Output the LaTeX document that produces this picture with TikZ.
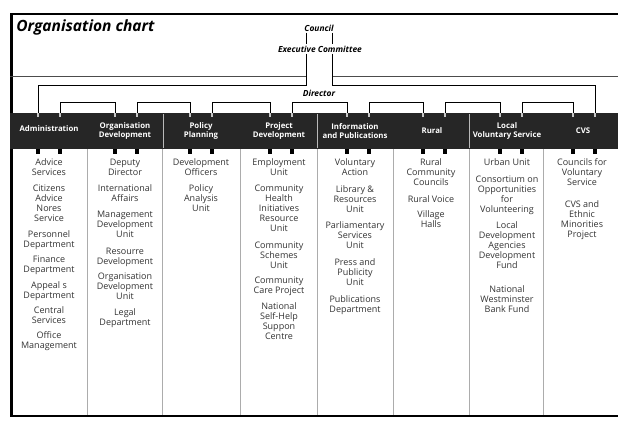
\documentclass[tikz,border=0pt]{standalone}
\usepackage{fontspec}
\setmainfont{Open Sans}
\usetikzlibrary{positioning}
\tikzset{every path/.style={line width=0.7pt},
  head/.style={text=white, font=\fontsize{7.8}{9.5}\selectfont\bfseries, align=center, inner sep=0pt},
  items/.style={text=black!80, font=\fontsize{9}{10}\selectfont, align=center, anchor=north, inner sep=0pt},
  boss/.style={font=\fontsize{8.4}{10}\selectfont\bfseries\itshape, inner sep=1pt},
  toptick/.style={fill=gray!45, minimum width=1.6pt, minimum height=4pt, inner sep=0pt, anchor=north},
  bottick/.style={fill=black, minimum width=3.5pt, minimum height=4.5pt, inner sep=0pt, anchor=north},
  colline/.style={gray!65, line width=0.6pt}}

\begin{document}
\begin{tikzpicture}[x=1pt,y=-1pt]
   \useasboundingbox (0,0) rectangle (618,421);
   % frame and title
   \draw[line width=2pt] (10,14) -- (618,14);
   \draw[line width=3pt] (11.5,13) -- (11.5,417);
   \draw[line width=2pt] (10,416) -- (618,416);
   \node[font=\fontsize{15.5}{18}\selectfont\bfseries\itshape, anchor=west, inner sep=0pt] (title) at (16,27) {Organisation chart};
   \node[boss] (council) at (319,28) {Council};
   \node[boss] (exec) at (320,49) {Executive Committee};
   \node[boss] (director) at (319,93) {Director};
   \draw[gray!60!black, line width=0.6pt] (10,76) -- (306,76);
   \draw[gray!60!black, line width=0.6pt] (332,76) -- (618,76);
   % band of departments
   \fill[black!85] (10,113) rectangle (618,149);
   \draw[gray!55, line width=0.5pt] (163,114) -- (163,148);
   \draw[gray!55, line width=0.5pt] (317,114) -- (317,148);
   \draw[gray!55, line width=0.5pt] (469,114) -- (469,148);
   \draw[colline] (87,149) -- (87,415);
   \draw[colline] (162,149) -- (162,415);
   \draw[colline] (240,149) -- (240,415);
   \draw[colline] (317,149) -- (317,415);
   \draw[colline] (393,149) -- (393,415);
   \draw[colline] (469,149) -- (469,415);
   \draw[colline] (543,149) -- (543,415);
   \node[head] (admin) at (49,129) {Administration};
   \node[head] (orgdev) at (125,131) {Organisation\\Development};
   \node[head] (policy) at (201,131) {Policy\\Planning};
   \node[head] (project) at (279,131) {Project\\Development};
   \node[head] (info) at (355,131) {Information\\and Publications};
   \node[head] (rural) at (432,131) {Rural};
   \node[head] (local) at (507,131) {Local\\Voluntary Service};
   \node[head] (cvs) at (583,131) {CVS};
   % ticks
   \node[toptick] (t1a) at (38,113) {};  \node[toptick] (t1b) at (60,113) {};
   \node[toptick] (t2a) at (115,113) {}; \node[toptick] (t2b) at (137,113) {};
   \node[toptick] (t3a) at (190,113) {}; \node[toptick] (t3b) at (212,113) {};
   \node[toptick] (t4a) at (270,113) {}; \node[toptick] (t4b) at (292,113) {};
   \node[toptick] (t5a) at (347,113) {}; \node[toptick] (t5b) at (369,113) {};
   \node[toptick] (t6a) at (423,113) {}; \node[toptick] (t6b) at (445,113) {};
   \node[toptick] (t7a) at (500,113) {}; \node[toptick] (t7b) at (522,113) {};
   \node[toptick] (t8a) at (573,113) {}; \node[toptick] (t8b) at (595,113) {};
   \node[bottick] (b1a) at (38,149) {};  \node[bottick] (b1b) at (60,149) {};
   \node[bottick] (b2a) at (115,149) {}; \node[bottick] (b2b) at (137,149) {};
   \node[bottick] (b3a) at (190,149) {}; \node[bottick] (b3b) at (212,149) {};
   \node[bottick] (b4a) at (270,149) {}; \node[bottick] (b4b) at (292,149) {};
   \node[bottick] (b5a) at (347,149) {}; \node[bottick] (b5b) at (369,149) {};
   \node[bottick] (b6a) at (423,149) {}; \node[bottick] (b6b) at (445,149) {};
   \node[bottick] (b7a) at (500,149) {}; \node[bottick] (b7b) at (522,149) {};
   \node[bottick] (b8a) at (573,149) {}; \node[bottick] (b8b) at (595,149) {};
   % connectors
   \draw[line width=0.6pt] ([xshift=-13pt]council.south) -- ([xshift=-14pt]exec.north);
   \draw[line width=0.6pt] ([xshift=13pt]council.south) -- ([xshift=12pt]exec.north);
   \draw ([xshift=-14pt]exec.south) |- ([yshift=28pt]t1a.north) -- (t1a.north);
   \draw ([xshift=12pt]exec.south) |- ([yshift=28pt]t8b.north) -- (t8b.north);
   \draw (t1b.north) |- ([yshift=11pt]t2a.north) -- (t2a.north);
   \draw (t2b.north) |- ([yshift=11pt]t3a.north) -- (t3a.north);
   \draw (t3b.north) |- ([yshift=11pt]t4a.north) -- (t4a.north);
   \draw (t4b.north) |- ([yshift=11pt]t5a.north) -- (t5a.north);
   \draw (t5b.north) |- ([yshift=11pt]t6a.north) -- (t6a.north);
   \draw (t6b.north) |- ([yshift=11pt]t7a.north) -- (t7a.north);
   \draw (t7b.north) |- ([yshift=11pt]t8a.north) -- (t8a.north);
   % units
   \node[items] (adminlist) at (49,158.5) {Advice\\Services\\[6pt]Citizens\\Advice\\Nores\\Service\\[6pt]Personnel\\Department\\[5pt]Finance\\Department\\[6pt]Appeal s\\Department\\[5pt]Central\\Services\\[5pt]Office\\Management};
   \node[items] (orgdevlist) at (125,158.5) {Deputy\\Director\\[6pt]International\\Affairs\\[6pt]Management\\Development\\Unit\\[7pt]Resourre\\Development\\[5pt]Organisation\\Development\\Unit\\[6pt]Legal\\Department};
   \node[items] (policylist) at (201,158.5) {Development\\Officers\\[6pt]Policy\\Analysis\\Unit};
   \node[items] (projectlist) at (279,158.5) {Employment\\Unit\\[6pt]Community\\Health\\Initiatives\\Resource\\Unit\\[7pt]Community\\Schemes\\Unit\\[5pt]Community\\Care Project\\[6pt]National\\Self-Help\\Suppon\\Centre};
   \node[items] (infolist) at (355,158.5) {Voluntary\\Action\\[7pt]Library \&\\Resources\\Unit\\[6pt]Parliamentary\\Services\\Unit\\[7pt]Press and\\Publicity\\Unit\\[7pt]Publications\\Department};
   \node[items] (rurallist) at (431,158.5) {Rural\\Community\\Councils\\[7pt]Rural Voice\\[5pt]Village\\Halls};
   \node[items] (locallist) at (507,158.5) {Urban Unit\\[7pt]Consortium on\\Opportunities\\for\\Volunteering\\[6pt]Local\\Development\\Agencies\\Development\\Fund\\[14pt]National\\Westminster\\Bank Fund};
   \node[items] (cvslist) at (582,158.5) {Councils for\\Voluntary\\Service\\[12pt]CVS and\\Ethnic\\Minorities\\Project};
\end{tikzpicture}
\end{document}
